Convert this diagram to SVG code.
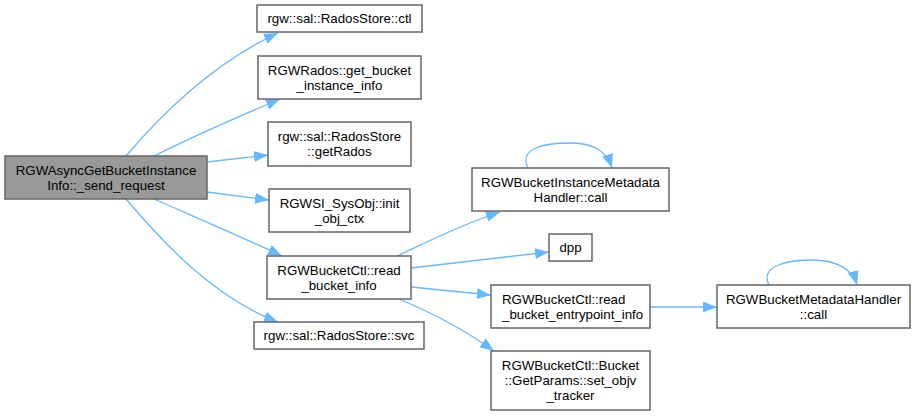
<svg xmlns="http://www.w3.org/2000/svg" width="915" height="416" viewBox="0 0 915 416">
<style>
.bg{fill:#ffffff}
.node rect{fill:#ffffff;stroke:#666666;stroke-width:1.5}
.node.main rect{fill:#999999}
.node text{font-family:"Liberation Sans",Arial,Helvetica,sans-serif;font-size:13.3px;fill:#000000;text-anchor:middle}
.node text.l{text-anchor:start}
.edges path{fill:none;stroke:#63b8ff;stroke-width:1.3;marker-end:url(#arr)}
</style>
<defs>
<marker id="arr" markerUnits="userSpaceOnUse" markerWidth="15" markerHeight="12" refX="14" refY="5.5" orient="auto">
<path d="M0,0 L14,5.5 L0,11 z" fill="#63b8ff"/>
</marker>
</defs>
<rect class="bg" x="0" y="0" width="915" height="416"/>
<g id="edges" class="edges">
<path d="M126,156 C165,110 215,62 278,33"/>
<path d="M154,156 C190,138 235,118 280,99"/>
<path d="M207,162 L268,155"/>
<path d="M207,192 L269,200"/>
<path d="M154,199 C195,217 240,236 282,256"/>
<path d="M126,199 C165,245 215,298 278,322"/>
<path d="M397,256 C425,243 460,225 500,212"/>
<path d="M411,268 L549,252"/>
<path d="M411,287 L491,295"/>
<path d="M399,299 C430,312 465,330 494,351"/>
<path d="M650,307 L717,307"/>
<path d="M528,168 C518,148 545,143 570,143 C592,143 606,150 612,168"/>
<path d="M769,285 C759,265 790,260 812,260 C835,260 852,268 857,285"/>
</g>
<g id="n_main" class="node main"><rect x="5" y="156" width="202" height="43"/><text x="106" y="175">RGWAsyncGetBucketInstance</text><text x="106" y="190">Info::_send_request</text></g>
<g id="n_ctl" class="node"><rect x="257" y="5" width="165" height="27"/><text x="339.5" y="23">rgw::sal::RadosStore::ctl</text></g>
<g id="n_gbii" class="node"><rect x="258" y="56" width="163" height="43"/><text x="339.5" y="75">RGWRados::get_bucket</text><text x="339.5" y="90">_instance_info</text></g>
<g id="n_getrados" class="node"><rect x="268" y="122" width="143" height="44"/><text x="339.5" y="141">rgw::sal::RadosStore</text><text x="339.5" y="156">::getRados</text></g>
<g id="n_init" class="node"><rect x="269" y="189" width="141" height="43"/><text x="339.5" y="208">RGWSI_SysObj::init</text><text x="339.5" y="223">_obj_ctx</text></g>
<g id="n_rbi" class="node"><rect x="267" y="256" width="144" height="43"/><text x="339" y="275">RGWBucketCtl::read</text><text x="339" y="290">_bucket_info</text></g>
<g id="n_svc" class="node"><rect x="254" y="322" width="170" height="27"/><text x="339" y="340">rgw::sal::RadosStore::svc</text></g>
<g id="n_imh" class="node"><rect x="472" y="168" width="197" height="43"/><text x="570.5" y="187">RGWBucketInstanceMetadata</text><text x="570.5" y="202">Handler::call</text></g>
<g id="n_dpp" class="node"><rect x="549" y="234" width="43" height="27"/><text x="570.5" y="252">dpp</text></g>
<g id="n_rbei" class="node"><rect x="491" y="285" width="159" height="43"/><text class="l" x="502" y="304">RGWBucketCtl::read</text><text class="l" x="502" y="319">_bucket_entrypoint_info</text></g>
<g id="n_sot" class="node"><rect x="491" y="351" width="159" height="59"/><text x="570.5" y="370">RGWBucketCtl::Bucket</text><text x="570.5" y="385">::GetParams::set_objv</text><text x="570.5" y="400">_tracker</text></g>
<g id="n_bmh" class="node"><rect x="717" y="285" width="193" height="43"/><text x="813.5" y="304">RGWBucketMetadataHandler</text><text x="813.5" y="319">::call</text></g>
</svg>
